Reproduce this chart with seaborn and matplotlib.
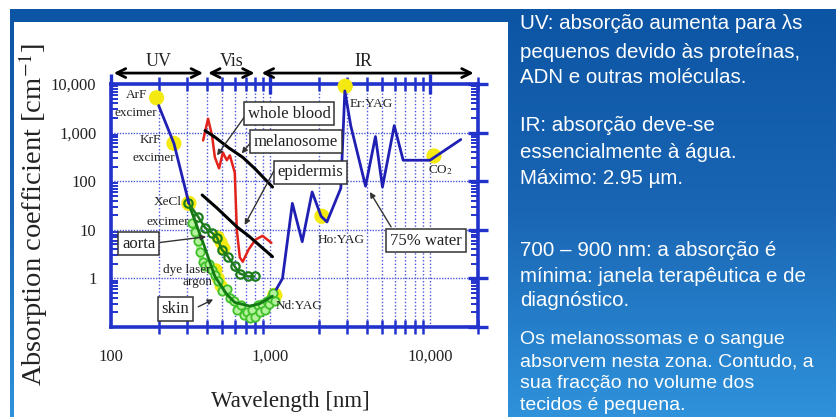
import numpy as np
import pandas as pd
import matplotlib
matplotlib.use("Agg")
import matplotlib.pyplot as plt
import matplotlib.transforms as mtransforms
from matplotlib.colors import LinearSegmentedColormap
from matplotlib.ticker import FixedLocator, FuncFormatter, NullFormatter
import seaborn as sns

sns.set_theme(style="white")
plt.rcParams["font.family"] = ["Liberation Serif", "DejaVu Serif"]
plt.rcParams["mathtext.fontset"] = "stix"

# ---------------- data (wavelength in nm, absorption in cm^-1) ----------------
water_nm = [1089, 1189, 1371, 1581, 1824, 2076, 2260, 2760, 2925, 3185, 3945,
            4550, 5035, 5970, 6790, 10000, 15600]
water_abs = [0.6, 1.0, 35, 5.7, 60, 19, 14.5, 72, 7200, 1390, 79,
             830, 76, 1390, 270, 270, 720]

excimer_nm = [199, 248, 308]
excimer_abs = [3600, 600, 35]

blood_nm = [378, 406, 430, 448, 476, 503, 532, 556, 580, 597, 615, 642, 670,
            728, 806, 892, 1013]
blood_abs = [690, 1930, 870, 310, 184, 390, 270, 340, 210, 150, 10, 2.7, 2.2,
             3.9, 6.3, 7.5, 5.4]

melanosome_nm = [389, 450, 550, 670, 800, 1030]
melanosome_abs = [1100, 800, 480, 310, 180, 76]

epidermis_nm = [373, 462, 615, 740, 1029]
epidermis_abs = [52, 28, 11.5, 7.2, 2.8]

aorta_nm = [305, 352, 389, 430, 462, 496, 541, 597, 642, 720, 795]
aorta_abs = [36, 18.5, 11, 8.7, 6.9, 3.9, 2.8, 1.76, 1.26, 1.1, 1.1]

skin_fit_nm = [314, 378, 448, 532, 597, 740, 853, 1029]
skin_fit_abs = [28, 5.4, 1.1, 0.47, 0.32, 0.27, 0.3, 0.43]

skin_nm = [320, 335, 350, 360, 375, 390, 410, 430, 450, 470, 500, 530, 560,
           590, 620, 650, 680, 710, 740, 770, 800, 830, 860, 890, 920, 950,
           980, 1010, 1040, 1060]
skin_abs = [14, 9, 6, 3.5, 2.2, 1.8, 2.0, 1.5, 1.2, 0.9, 0.55, 0.6, 0.4,
            0.35, 0.22, 0.28, 0.18, 0.2, 0.15, 0.22, 0.16, 0.28, 0.2, 0.3,
            0.22, 0.35, 0.3, 0.4, 0.5, 0.35]

laser_names = ["ArF", "KrF", "XeCl", "Nd:YAG", "Ho:YAG", "Er:YAG", "CO2"]
laser_nm = [193, 248, 308, 1064, 2100, 2940, 10600]
laser_abs = [5200, 600, 35, 0.45, 19, 9000, 330]

dye_nm = [470, 490, 510, 455, 470, 490]
dye_abs = [7.0, 5.5, 4.2, 1.5, 1.0, 0.7]

ytick_vals = [0.1, 1, 10, 100, 1000, 10000]
xtick_vals = [100, 1000, 10000]

notes = [
    "UV: absorção aumenta para λs",
    "pequenos devido às proteínas,",
    "ADN e outras moléculas.",
    "IR: absorção deve-se",
    "essencialmente à água.",
    "Máximo: 2.95 µm.",
    "700 – 900 nm: a absorção é",
    "mínima: janela terapêutica e de",
    "diagnóstico.",
    "Os melanossomas e o sangue",
    "absorvem nesta zona. Contudo, a",
    "sua fracção no volume dos",
    "tecidos é pequena.",
]
note_y = [23, 52, 77, 125, 152, 178, 250, 276, 300, 340, 362, 384, 405]
note_size = [14.8] * 9 + [14.0] * 4

# ---------------- figure & slide background ----------------
W, H = 836, 417
fig = plt.figure(figsize=(W / 100, H / 100), dpi=100, facecolor="white")

bg = fig.add_axes([0, 0, 1, 1], zorder=-10)
bg.set_xlim(0, W)
bg.set_ylim(H, 0)
bg.axis("off")
cmap = LinearSegmentedColormap.from_list("slide", ["#0c55a4", "#1a66b4", "#2f92db"])
grad = np.linspace(0, 1, 256).reshape(-1, 1)
bg.imshow(grad, cmap=cmap, aspect="auto", extent=(10, W, H, 9), zorder=0)
bg.add_patch(plt.Rectangle((14, 22), 494, H - 22, facecolor="white",
                           edgecolor="none", zorder=1))

for txt, yy, fs in zip(notes, note_y, note_size):
    bg.text(520, yy, txt, color="white", fontsize=fs, va="center",
            ha="left", family=["Liberation Sans", "DejaVu Sans"], zorder=2)

# ---------------- chart axes ----------------
L, R, T, B = 111, 478, 84, 327
ax = fig.add_axes([L / W, 1 - B / H, (R - L) / W, (B - T) / H])
ax.set_facecolor("none")
ax.set_xscale("log")
ax.set_yscale("log")
ax.set_xlim(100, 20000)
ax.set_ylim(0.1, 10000)

spine_c = "#2233cc"
grid_c = "#4a55d8"
for s in ax.spines.values():
    s.set_color(spine_c)
    s.set_linewidth(2.6)
    s.set_visible(True)

ax.xaxis.set_major_locator(FixedLocator(xtick_vals))
ax.yaxis.set_major_locator(FixedLocator(ytick_vals))
fmt = FuncFormatter(lambda v, p: "" if v < 1 else f"{v:,.0f}")
ax.xaxis.set_major_formatter(fmt)
ax.yaxis.set_major_formatter(fmt)
ax.xaxis.set_minor_formatter(NullFormatter())
ax.yaxis.set_minor_formatter(NullFormatter())

ax.grid(True, which="major", axis="y", color=grid_c, lw=1.0, ls=(0, (1, 1)))
ax.grid(True, which="both", axis="x", color=grid_c, lw=1.0, ls=(0, (1, 1.5)))

ax.tick_params(which="major", direction="inout", length=15, width=2.4,
               color=spine_c, top=True, right=True, labelsize=12,
               labelcolor="#222222")
ax.tick_params(axis="x", which="major", pad=8)
ax.tick_params(axis="y", which="major", pad=3)
ax.tick_params(axis="x", which="minor", direction="inout", length=10,
               width=1.8, color=spine_c, top=True, bottom=True)
ax.tick_params(axis="y", which="minor", direction="in", length=5,
               width=1.4, color=spine_c, left=True, right=True)

ax.set_xlabel("Wavelength [nm]", fontsize=16.5, color="#222222")
ax.set_ylabel("Absorption coefficient [cm$^{-1}$]", fontsize=20.5,
              color="#222222")
ax.yaxis.set_label_coords(-0.165, 0.465)
ax.xaxis.set_label_coords(0.49, -0.265)

# laser highlights
laser_df = pd.DataFrame({"nm": laser_nm, "abs": laser_abs, "laser": laser_names})
sns.scatterplot(data=laser_df, x="nm", y="abs", ax=ax, s=120, color="#f4ea12",
                edgecolor="none", zorder=3, clip_on=False, legend=False)
dye_df = pd.DataFrame({"nm": dye_nm, "abs": dye_abs})
sns.scatterplot(data=dye_df, x="nm", y="abs", ax=ax, s=90, color="#f4ea12",
                edgecolor="none", zorder=3, legend=False)

# skin data: bright green band with open circles
skin_df = pd.DataFrame({"nm": skin_nm, "abs": skin_abs})
sns.lineplot(data=skin_df, x="nm", y="abs", ax=ax, color="#7ee85a", lw=4,
             alpha=0.7, sort=False, estimator=None, zorder=4)
sns.scatterplot(data=skin_df, x="nm", y="abs", ax=ax, s=36,
                facecolor="#b4f29c", edgecolor="#3fbf2a", linewidth=1.3,
                zorder=5, legend=False)

# curves
def curve(xs, ys, color, lw, z):
    d = pd.DataFrame({"nm": xs, "abs": ys})
    sns.lineplot(data=d, x="nm", y="abs", ax=ax, color=color, lw=lw,
                 sort=False, estimator=None, zorder=z)

curve(skin_fit_nm, skin_fit_abs, "#137a13", 2.0, 6)
aorta_df = pd.DataFrame({"nm": aorta_nm, "abs": aorta_abs})
sns.lineplot(data=aorta_df, x="nm", y="abs", ax=ax, color="#1d7d1d", lw=1.8,
             sort=False, estimator=None, zorder=6, marker="o", markersize=6,
             markerfacecolor="none", markeredgecolor="#1d7d1d",
             markeredgewidth=1.6)
curve(blood_nm, blood_abs, "#e3231b", 1.8, 6)
curve(melanosome_nm, melanosome_abs, "black", 2.2, 6)
curve(epidermis_nm, epidermis_abs, "black", 2.2, 6)
curve(excimer_nm, excimer_abs, "#1f1fb4", 2.0, 6)
curve(water_nm, water_abs, "#1f1fb4", 2.0, 6)

# region arrows above the axes
tr = mtransforms.blended_transform_factory(ax.transData, ax.transAxes)
for lo, hi, lab, xl in [(104, 378, "UV", 199), (406, 795, "Vis", 574),
                        (880, 18800, "IR", 3830)]:
    ax.annotate("", xy=(hi, 1.045), xytext=(lo, 1.045), xycoords=tr,
                textcoords=tr, annotation_clip=False,
                arrowprops=dict(arrowstyle="<->", lw=2.0, color="black",
                                mutation_scale=16, shrinkA=0, shrinkB=0))
    ax.text(xl, 1.094, lab, transform=tr, ha="center", va="center",
            fontsize=13, color="#222222", clip_on=False)

# small laser labels
small = [("ArF", 145, 5970), ("excimer", 143, 2560), ("KrF", 177, 690),
         ("excimer", 185, 294), ("XeCl", 226, 37), ("excimer", 226, 14.5),
         ("dye laser", 300, 1.52), ("argon", 347, 0.83),
         ("Er:YAG", 4300, 3900), ("Ho:YAG", 2760, 6.3),
         ("Nd:YAG", 1515, 0.27), ("CO$_2$", 11700, 168)]
for t, x, y in small:
    ax.text(x, y, t, fontsize=9.5, ha="center", va="center", color="#222222",
            zorder=8)

# boxed labels with pointers
boxed = [("whole blood", 1313, 2440, (709, 2440), (462, 340)),
         ("melanosome", 1449, 655, (771, 690), (660, 373)),
         ("epidermis", 1772, 153, (1072, 184), (689, 12.6)),
         ("aorta", 149, 5.2, (204, 5.5), (395, 7.2)),
         ("skin", 253, 0.233, (352, 0.26), (437, 0.37)),
         ("75% water", 9440, 6.0, (5700, 11.5), (4200, 60))]
for t, x, y, tail, head in boxed:
    ax.annotate("", xy=head, xytext=tail,
                arrowprops=dict(arrowstyle="-|>", lw=1.0, color="#333333",
                                mutation_scale=8, shrinkA=0, shrinkB=0),
                zorder=9)
    ax.text(x, y, t, fontsize=12, ha="center", va="center", color="#222222",
            zorder=10, bbox=dict(boxstyle="square,pad=0.22", fc="white",
                                 ec="#333333", lw=1.1))

fig.savefig("out.png", dpi=100, facecolor="white")
